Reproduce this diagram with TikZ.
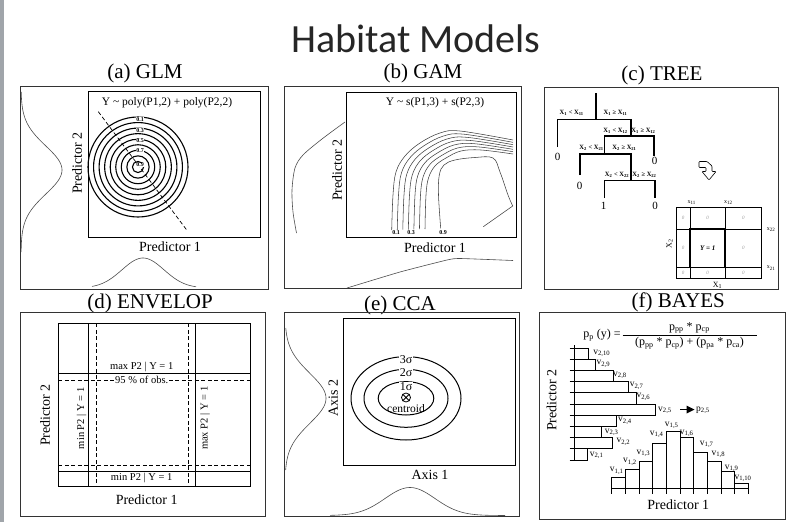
\documentclass[tikz,border=0pt]{standalone}
\usepackage{fontspec}
\setmainfont{Liberation Serif}
\newfontfamily\titlefont{Carlito}
\usetikzlibrary{arrows.meta,calc}
\definecolor{stripgray}{RGB}{160,165,170}
\begin{document}
\begin{tikzpicture}[x=1pt,y=-1pt,
  frame/.style={draw=black!80, line width=0.6pt},
  inbox/.style={draw=black, line width=0.9pt},
  ptitle/.style={font=\fontsize{21}{23}\selectfont, inner sep=0pt},
  axlab/.style={font=\fontsize{14}{16}\selectfont, inner sep=0pt},
  formula/.style={font=\fontsize{11.5}{13}\selectfont, inner sep=0pt},
  curve/.style={draw=black!70, line width=0.6pt},
  ring/.style={draw=black, line width=1.1pt},
  clab/.style={font=\fontsize{6}{7}\selectfont\bfseries, fill=white, inner sep=0.4pt},
  cont/.style={draw=black!75, line width=0.55pt},
  tree/.style={draw=black, line width=1.5pt},
  tlab/.style={font=\fontsize{6.5}{7}\selectfont\bfseries, inner sep=0pt},
  leaf/.style={font=\fontsize{11}{12}\selectfont, inner sep=0pt},
  glab/.style={font=\fontsize{6}{7}\selectfont, inner sep=0pt},
  cell/.style={font=\fontsize{5}{6}\selectfont\itshape, text=black!40, inner sep=0pt},
  dlab/.style={font=\fontsize{10.5}{12}\selectfont, inner sep=0.6pt},
  elab/.style={font=\fontsize{12}{13}\selectfont, fill=white, inner sep=0.8pt},
  flab/.style={font=\fontsize{12}{13}\selectfont, inner sep=0pt},
  vlab/.style={font=\fontsize{9.5}{10}\selectfont, inner sep=0pt},
  bar/.style={draw=black, line width=0.8pt},
  dsh/.style={draw=black, line width=0.8pt, dash pattern=on 4pt off 2.5pt}
]
\useasboundingbox (0,0) rectangle (790,522);
\fill[stripgray] (0,0) rectangle (4,522);

% title
\node[font=\titlefont\fontsize{40}{44}\selectfont, text=black!85, inner sep=0pt] (title) at (416,38.5) {Habitat Models};

% ================= (a) GLM =================
\node[ptitle] (ta) at (145,73) {(a) GLM};
\draw[frame] (20,86) rectangle (268,289);
\draw[inbox] (88,91) rectangle (260,237);
\node[formula] (fa) at (167,103) {Y \textasciitilde{} poly(P1,2) + poly(P2,2)};
\foreach \i in {0,...,8} {
  \pgfmathsetmacro\rr{50-5.55*\i}
  \draw[ring] (138,167) circle (\rr pt);
}
\draw[dsh, line width=0.7pt] (98.3,111.7) -- (186.7,230);
\node[clab] (a01) at (140,119.5) {0.1};
\node[clab] (a03) at (140,130.5) {0.3};
\node[clab] (a05) at (140,141) {0.5};
\node[clab] (a07) at (140,151) {0.7};
\node[clab] (a09) at (140,165) {0.9};
\node[axlab, rotate=90] (a2) at (77,163) {Predictor 2};
\node[axlab] (a1) at (170,247) {Predictor 1};
\draw[curve] plot[domain=92:252, samples=90, smooth] ({21+41*exp(-0.5*pow((\x-170)/24,2))},\x);
\draw[curve] plot[domain=92:196, samples=70, smooth] (\x,{288-30*exp(-0.5*pow((\x-143)/21,2))});

% ================= (b) GAM =================
\node[ptitle] (tb) at (423,73.5) {(b) GAM};
\draw[frame] (284,86) rectangle (521,288);
\draw[inbox] (346,92) rectangle (516,237);
\node[formula] (fb) at (435,103) {Y \textasciitilde{} s(P1,3) + s(P2,3)};
\foreach \t in {0,0.1667,0.3333,0.5,0.6667,0.8333,1} {
  \draw[cont] plot[smooth, tension=0.6] coordinates {
    ({391.7+\t*(425-391.7)},{230+\t*(229-230)})
    ({393+\t*(426-393)},{195})
    ({396+\t*(428.5-396)},{172+\t*(178-172)})
    ({405+\t*(435-405)},{156+\t*(166-156)})
    ({420+\t*(446-420)},{143+\t*(158-143)})
    ({440+\t*(461-440)},{133+\t*(151-133)})
    ({460+\t*(481-460)},{131+\t*(150-131)})
    ({513},{140+\t*(154-140)})
  };
}
\draw[cont] plot[smooth, tension=0.6] coordinates {
  (440.7,228.3) (438.5,195) (439.3,175) (444,165) (455,160) (475,157.5)
  (493,158) (500,172) (508,195) (512.7,206)} -- (483.3,226.7);
\node[clab, fill=none] (b01) at (396,233) {0.1};
\node[clab, fill=none] (b03) at (411,233) {0.3};
\node[clab, fill=none] (b09) at (443,233) {0.9};
\node[axlab, rotate=90] (b2) at (337,170) {Predictor 2};
\node[axlab] (b1) at (435,248) {Predictor 1};
\draw[curve] plot[smooth, tension=0.5] coordinates {(345,122) (322,139) (303,155) (295,168) (292,190) (293,212) (296.5,233)};
\draw[curve] plot[smooth, tension=0.3] coordinates {(347,288) (400,272) (447,260) (460,258.5) (513,260.5)};

% ================= (c) TREE =================
\node[ptitle] (tc) at (662,75) {(c) TREE};
\draw[frame] (544,87) rectangle (778,289);
\draw[tree] (596,93) -- (596,119.3);
\draw[tree] (557.7,147) -- (557.7,119.3) -- (631,119.3) -- (631,136);
\draw[tree] (604.3,154) -- (604.3,136) -- (654,136) -- (654,156);
\draw[tree] (580,175) -- (580,154) -- (631,154) -- (631,180.7);
\draw[tree] (604.3,198) -- (604.3,180.7) -- (655,180.7) -- (655,198);
\node[tlab] (l1a) at (571.7,113.3) {X\textsubscript{1} < X\textsubscript{11}};
\node[tlab] (l1b) at (615.5,113.3) {X\textsubscript{1} ≥ X\textsubscript{11}};
\node[tlab] (l2a) at (615.5,130.5) {X\textsubscript{1} < X\textsubscript{12}};
\node[tlab] (l2b) at (643.5,130.5) {X\textsubscript{1} ≥ X\textsubscript{12}};
\node[tlab] (l3a) at (591.5,148) {X\textsubscript{2} < X\textsubscript{21}};
\node[tlab] (l3b) at (624.5,148) {X\textsubscript{2} ≥ X\textsubscript{21}};
\node[tlab] (l4a) at (617,175) {X\textsubscript{2} < X\textsubscript{22}};
\node[tlab] (l4b) at (644.5,175) {X\textsubscript{2} ≥ X\textsubscript{22}};
\node[leaf] (z1) at (557.5,157) {0};
\node[leaf] (z2) at (654.5,161) {0};
\node[leaf] (z3) at (579.5,185.5) {0};
\node[leaf] (o1) at (603.5,205.5) {1};
\node[leaf] (z4) at (655,205.5) {0};
% hook arrow
\draw[line width=0.6pt, rounded corners=0.8pt] (699,161.5) -- (707,161.5) -- (712,166) -- (712,171.5) -- (716,171.5)
  -- (709,180) -- (702,171.5) -- (706,171.5) -- (706,167.5) -- (699,167.5) -- cycle;
% grid
\draw[line width=0.6pt] (676,207) rectangle (761.7,278);
\draw[line width=0.6pt] (690,207) -- (690,278) (725,207) -- (725,278)
  (676,229) -- (761.7,229) (676,267.5) -- (761.7,267.5);
\draw[line width=1.2pt] (690,229) rectangle (725,267.5);
\node[glab] (x11) at (691.7,202.5) {x\textsubscript{11}};
\node[glab] (x12) at (728.3,202.5) {x\textsubscript{12}};
\node[glab] (x22) at (771,229.5) {x\textsubscript{22}};
\node[glab] (x21) at (771,268) {x\textsubscript{21}};
\node[glab, font=\fontsize{8}{9}\selectfont, rotate=90] (X2) at (669.5,244) {X\textsubscript{2}};
\node[glab, font=\fontsize{8}{9}\selectfont] (X1) at (717.5,285) {X\textsubscript{1}};
\node[glab, font=\fontsize{7}{8}\selectfont\bfseries\itshape] (y1) at (707.7,248) {Y = 1};
\foreach \cx/\cy in {683/218,707.5/218,743.4/218,683/248,743.4/248,683/272.8,707.5/272.8,743.4/272.8}
  \node[cell] at (\cx,\cy) {0};

% ================= (d) ENVELOP =================
\node[ptitle] (td) at (150,303) {(d) ENVELOP};
\draw[frame] (20,312) rectangle (265,516);
\draw[line width=0.8pt] (58.3,323.3) rectangle (250,486.7);
\draw[line width=0.8pt] (88.3,323.3) -- (88.3,486.7) (195,323.3) -- (195,486.7)
  (58.3,373.3) -- (250,373.3) (58.3,471.7) -- (250,471.7);
\draw[dsh] (96.7,323.3) -- (96.7,486.7);
\draw[dsh] (188.3,323.3) -- (188.3,486.7);
\draw[dsh] (58.3,380) -- (250,380);
\draw[dsh] (58.3,465) -- (250,465);
\node[dlab] (dmax) at (141.7,367) {max P2 | Y = 1};
\node[dlab, fill=white] (d95) at (141.7,380) {95 \% of obs.};
\node[dlab] (dmin) at (141.7,478.3) {min P2 | Y = 1};
\node[dlab, rotate=90] (dminv) at (81.5,418.3) {min P2 | Y = 1};
\node[dlab, rotate=90] (dmaxv) at (205,418.3) {max P2 | Y = 1};
\node[axlab, rotate=90] (d2) at (45,415) {Predictor 2};
\node[axlab] (d1) at (146.7,500) {Predictor 1};

% ================= (e) CCA =================
\node[ptitle] (te) at (400,305) {(e) CCA};
\draw[frame] (284,312.7) rectangle (519,516.7);
\draw[line width=0.8pt] (343.3,318.3) rectangle (515,465);
\draw[line width=1pt] (406,398.3) ellipse [x radius=55pt, y radius=41.7pt];
\draw[line width=1pt] (406,398.3) ellipse [x radius=42pt, y radius=29pt];
\draw[line width=1pt] (406,398.3) ellipse [x radius=27.8pt, y radius=16.7pt];
\node[elab] (s3) at (406,360) {3σ};
\node[elab] (s2) at (406,372.7) {2σ};
\node[elab] (s1) at (406,386.5) {1σ};
\node[circle, draw, line width=0.8pt, minimum size=9pt, inner sep=0pt] (cen) at (406,397.5) {};
\draw[line width=0.8pt] (cen.north west) -- (cen.south east) (cen.north east) -- (cen.south west);
\node[elab, fill=none, font=\fontsize{11.5}{12}\selectfont] (centroid) at (406,408.5) {centroid};
\node[axlab, rotate=90] (e2) at (333.3,398.3) {Axis 2};
\node[axlab] (e1) at (430,475) {Axis 1};
\draw[curve] plot[domain=328:470, samples=80, smooth] ({285+41*exp(-0.5*pow((\x-398.3)/25,2))},\x);
\draw[curve] plot[domain=330:505, samples=80, smooth] (\x,{515.5-28*exp(-0.5*pow((\x-410)/25,2))});

% ================= (f) BAYES =================
\node[ptitle] (tf) at (678.3,302) {(f) BAYES};
\draw[frame] (539,312.7) rectangle (785,519);
\node[flab] (pp) at (602,335) {p\textsubscript{p} (y) =};
\node[flab] (num) at (689.5,328) {p\textsubscript{pp} * p\textsubscript{cp}};
\node[flab] (den) at (689.5,343) {(p\textsubscript{pp} * p\textsubscript{cp}) + (p\textsubscript{pa} * p\textsubscript{ca})};
\coordinate (fl) at (622.7,335.5);
\coordinate (fr) at (756.7,335.5);
\draw[line width=0.7pt] (fl) -- (fr);
% vertical histogram (predictor 2)
\draw[bar] (574.3,345) -- (574.3,460);
\foreach \k/\e in {0/588.3,1/595,2/613.3,3/628.3,4/636.7,5/655,6/616,7/601.7,8/612.7,9/587.7} {
  \pgfmathsetmacro\ya{348+11.2*\k}
  \pgfmathsetmacro\yb{348+11.2*(\k+1)}
  \draw[bar] (569.5,\ya) -- (574.3,\ya) (574.3,\ya) rectangle (\e,\yb);
}
\draw[bar] (569.5,460) -- (574.3,460);
\node[vlab] (v210) at (601.7,353.5) {v\textsubscript{2,10}};
\node[vlab] (v29) at (603.3,363.8) {v\textsubscript{2,9}};
\node[vlab] (v28) at (620,375) {v\textsubscript{2,8}};
\node[vlab] (v27) at (636.7,385.7) {v\textsubscript{2,7}};
\node[vlab] (v26) at (643.3,396.7) {v\textsubscript{2,6}};
\node[vlab] (v25) at (665,410) {v\textsubscript{2,5}};
\node[vlab] (v24) at (625,420.7) {v\textsubscript{2,4}};
\node[vlab] (v23) at (611.7,432.3) {v\textsubscript{2,3}};
\node[vlab] (v22) at (623.3,441.7) {v\textsubscript{2,2}};
\node[vlab] (v21) at (596.7,455) {v\textsubscript{2,1}};
\node[vlab] (p25) at (703,410) {p\textsubscript{2,5}};
\coordinate (arrs) at (680,409.5);
\coordinate (arrm) at (687.5,409.5);
\draw[line width=1pt] (arrs) -- (arrm);
\fill (686.5,405.5) -- (694.5,409.5) -- (686.5,413.5) -- cycle;
% horizontal histogram (predictor 1)
\draw[bar] (611.7,488.3) -- (748.3,488.3);
\foreach \k/\t in {0/477.3,1/469,2/461.7,3/443.3,4/431.7,5/437.7,6/452.7,7/461,8/471.7,9/483.3} {
  \pgfmathsetmacro\xa{611.7+13.66*\k}
  \pgfmathsetmacro\xb{611.7+13.66*(\k+1)}
  \draw[bar] (\xa,\t) rectangle (\xb,488.3);
  \draw[bar] (\xa,488.3) -- (\xa,493.5);
}
\draw[bar] (748.3,488.3) -- (748.3,493.5);
\node[vlab] (v11) at (616.7,470.7) {v\textsubscript{1,1}};
\node[vlab] (v12) at (630,461.7) {v\textsubscript{1,2}};
\node[vlab] (v13) at (643.3,453.3) {v\textsubscript{1,3}};
\node[vlab] (v14) at (656.7,434.3) {v\textsubscript{1,4}};
\node[vlab] (v15) at (671.7,425) {v\textsubscript{1,5}};
\node[vlab] (v16) at (686.7,433.3) {v\textsubscript{1,6}};
\node[vlab] (v17) at (706.7,444.3) {v\textsubscript{1,7}};
\node[vlab] (v18) at (718.3,454.3) {v\textsubscript{1,8}};
\node[vlab] (v19) at (731.7,468.3) {v\textsubscript{1,9}};
\node[vlab] (v110) at (743,478.3) {v\textsubscript{1,10}};
\node[axlab, rotate=90] (f2) at (551.7,400) {Predictor 2};
\node[axlab] (f1) at (678.3,505) {Predictor 1};
\end{tikzpicture}
\end{document}
